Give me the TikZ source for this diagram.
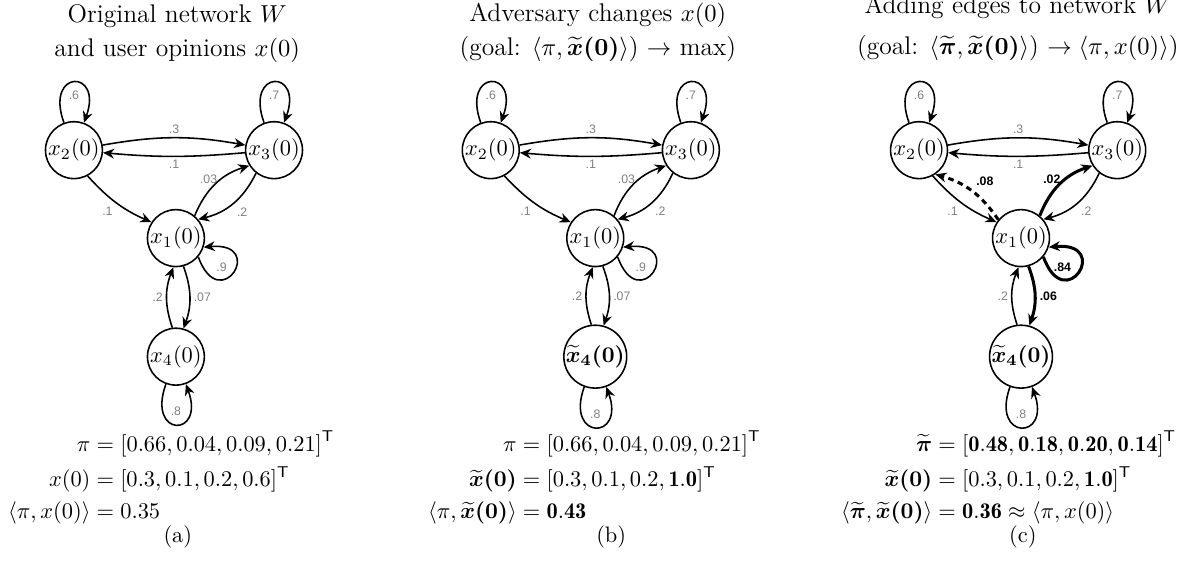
\documentclass[tikz,border=0pt]{standalone}
\usepackage{amsmath,amssymb}
\usepackage{fontspec}
\newfontfamily\wgtfont{Liberation Sans}
\usetikzlibrary{arrows.meta}
\setlength{\jot}{2.4pt}

\tikzset{
  opn/.style={circle, draw, line width=0.7pt, minimum size=25.4pt, inner sep=0pt},
  lnk/.style={->, >={Stealth[length=5pt,width=4.4pt]}, line width=0.7pt},
  heavy/.style={line width=1.35pt},
  wgt/.style={font=\wgtfont\fontsize{5.5}{6}\selectfont, text=gray, inner sep=1.5pt},
  bwgt/.style={font=\wgtfont\bfseries\fontsize{5.5}{6}\selectfont, inner sep=1.5pt},
  ttl/.style={anchor=south, align=center, inner sep=0pt, font=\fontsize{11.4}{15.2}\selectfont},
  eqs/.style={anchor=west, inner sep=0pt},
  caplbl/.style={inner sep=0pt}
}

\begin{document}
\begin{tikzpicture}
\useasboundingbox (0,0) rectangle (18.75,9.116);

% (a) original network
\node[ttl] (ta) at (2.78,8.13) {Original network $W$\\and user opinions $x(0)$};
\node[opn] (a1) at (2.76,5.38) {$x_1(0)$};
\node[opn] (a2) at (1.16,6.76) {$x_2(0)$};
\node[opn] (a3) at (4.30,6.76) {$x_3(0)$};
\node[opn] (a4) at (2.76,3.52) {$x_4(0)$};

\draw[lnk] (a2) to[bend left=10] node[wgt, above] {.3} (a3);
\draw[lnk] (a3) to[bend left=5] node[wgt, below] {.1} (a2);
\draw[lnk] (a2.-62) to[bend right=12] node[wgt, below left] {.1} (a1.147);
\draw[lnk] (a1.50) to[bend left=25] node[wgt, left, pos=0.6] {.03} (a3.212);
\draw[lnk] (a3.232) to[bend left=25] node[wgt, below right] {.2} (a1.40);
\draw[lnk] (a4.97) to[bend left=20] node[wgt, left] {.2} (a1.-95);
\draw[lnk] (a1.-75) to[bend left=20] node[wgt, right] {.07} (a4.75);
\draw[lnk] (a2) to[out=110, in=70, distance=9mm] node[wgt, below=2pt] {.6} (a2);
\draw[lnk] (a3) to[out=110, in=70, distance=9mm] node[wgt, below=2pt] {.7} (a3);
\draw[lnk] (a1.-40) to[out=-70, in=5, distance=10mm] node[wgt, left=1pt, yshift=2.5pt] {.9} (a1.-18);
\draw[lnk] (a4) to[out=-110, in=-70, distance=9mm] node[wgt, above=2pt] {.8} (a4);

\node[eqs] (ea) at (0.12,1.60) {$\begin{aligned}
  \pi &= [0.66, 0.04, 0.09, 0.21]^{\mathsf{T}}\\
  x(0) &= [0.3, 0.1, 0.2, 0.6]^{\mathsf{T}}\\
  \langle \pi, x(0)\rangle &= 0.35
\end{aligned}$};
\node[caplbl] (la) at (2.79,0.69) {(a)};

% (b) adversary changes the opinions
\node[ttl] (tb) at (9.38,8.13) {Adversary changes $x(0)$\\(goal: $\langle\pi,\boldsymbol{\widetilde{x}(0)}\rangle$) $\rightarrow$ max)};
\node[opn] (b1) at (9.34,5.38) {$x_1(0)$};
\node[opn] (b2) at (7.70,6.76) {$x_2(0)$};
\node[opn] (b3) at (10.84,6.76) {$x_3(0)$};
\node[opn] (b4) at (9.34,3.52) {$\boldsymbol{\widetilde{x}_4(0)}$};

\draw[lnk] (b2) to[bend left=10] node[wgt, above] {.3} (b3);
\draw[lnk] (b3) to[bend left=5] node[wgt, below] {.1} (b2);
\draw[lnk] (b2.-62) to[bend right=12] node[wgt, below left] {.1} (b1.147);
\draw[lnk] (b1.50) to[bend left=25] node[wgt, left, pos=0.6] {.03} (b3.212);
\draw[lnk] (b3.232) to[bend left=25] node[wgt, below right] {.2} (b1.40);
\draw[lnk] (b4.97) to[bend left=20] node[wgt, left] {.2} (b1.-95);
\draw[lnk] (b1.-75) to[bend left=20] node[wgt, right] {.07} (b4.75);
\draw[lnk] (b2) to[out=110, in=70, distance=9mm] node[wgt, below=2pt] {.6} (b2);
\draw[lnk] (b3) to[out=110, in=70, distance=9mm] node[wgt, below=2pt] {.7} (b3);
\draw[lnk] (b1.-40) to[out=-70, in=5, distance=10mm] node[wgt, left=1pt, yshift=2.5pt] {.9} (b1.-18);
\draw[lnk] (b4) to[out=-110, in=-70, distance=9mm] node[wgt, above=2pt] {.8} (b4);

\node[eqs] (eb) at (6.71,1.60) {$\begin{aligned}
  \pi &= [0.66, 0.04, 0.09, 0.21]^{\mathsf{T}}\\
  \boldsymbol{\widetilde{x}(0)} &= [0.3, 0.1, 0.2, \mathbf{1.0}]^{\mathsf{T}}\\
  \langle \pi, \boldsymbol{\widetilde{x}(0)}\rangle &= \mathbf{0.43}
\end{aligned}$};
\node[caplbl] (lb) at (9.59,0.69) {(b)};

% (c) adding edges to the network
\node[ttl] (tc) at (15.97,8.16) {Adding edges to network $W$\\[2.7pt](goal: $\langle\boldsymbol{\widetilde{\pi}},\boldsymbol{\widetilde{x}(0)}\rangle$) $\rightarrow\langle\pi,x(0)\rangle$)};
\node[opn] (c1) at (16.02,5.38) {$x_1(0)$};
\node[opn] (c2) at (14.42,6.76) {$x_2(0)$};
\node[opn] (c3) at (17.53,6.76) {$x_3(0)$};
\node[opn] (c4) at (16.02,3.52) {$\boldsymbol{\widetilde{x}_4(0)}$};

\draw[lnk] (c2) to[bend left=10] node[wgt, above] {.3} (c3);
\draw[lnk] (c3) to[bend left=5] node[wgt, below] {.1} (c2);
\draw[lnk] (c2.-62) to[bend right=12] node[wgt, below left] {.1} (c1.147);
\draw[lnk, heavy, dash pattern=on 2.5pt off 2pt] (c1.141) to[bend right=20] node[bwgt, above right] {.08} (c2.-56);
\draw[lnk, heavy] (c1.50) to[bend left=25] node[bwgt, left, pos=0.6] {.02} (c3.212);
\draw[lnk] (c3.232) to[bend left=25] node[wgt, below right] {.2} (c1.40);
\draw[lnk] (c4.97) to[bend left=20] node[wgt, left] {.2} (c1.-95);
\draw[lnk, heavy] (c1.-75) to[bend left=20] node[bwgt, right] {.06} (c4.75);
\draw[lnk] (c2) to[out=110, in=70, distance=9mm] node[wgt, below=2pt] {.6} (c2);
\draw[lnk] (c3) to[out=110, in=70, distance=9mm] node[wgt, below=2pt] {.7} (c3);
\draw[lnk, heavy] (c1.-40) to[out=-70, in=5, distance=10mm] node[bwgt, left=1pt, yshift=2.5pt] {.84} (c1.-18);
\draw[lnk] (c4) to[out=-110, in=-70, distance=9mm] node[wgt, above=2pt] {.8} (c4);

\node[eqs] (ec) at (13.19,1.60) {$\begin{aligned}
  \boldsymbol{\widetilde{\pi}} &= [\mathbf{0.48}, \mathbf{0.18}, \mathbf{0.20}, \mathbf{0.14}]^{\mathsf{T}}\\
  \boldsymbol{\widetilde{x}(0)} &= [0.3, 0.1, 0.2, \mathbf{1.0}]^{\mathsf{T}}\\
  \langle \boldsymbol{\widetilde{\pi}}, \boldsymbol{\widetilde{x}(0)}\rangle &= \mathbf{0.36} \approx \langle \pi, x(0)\rangle
\end{aligned}$};
\node[caplbl] (lc) at (16.05,0.69) {(c)};
\end{tikzpicture}
\end{document}
